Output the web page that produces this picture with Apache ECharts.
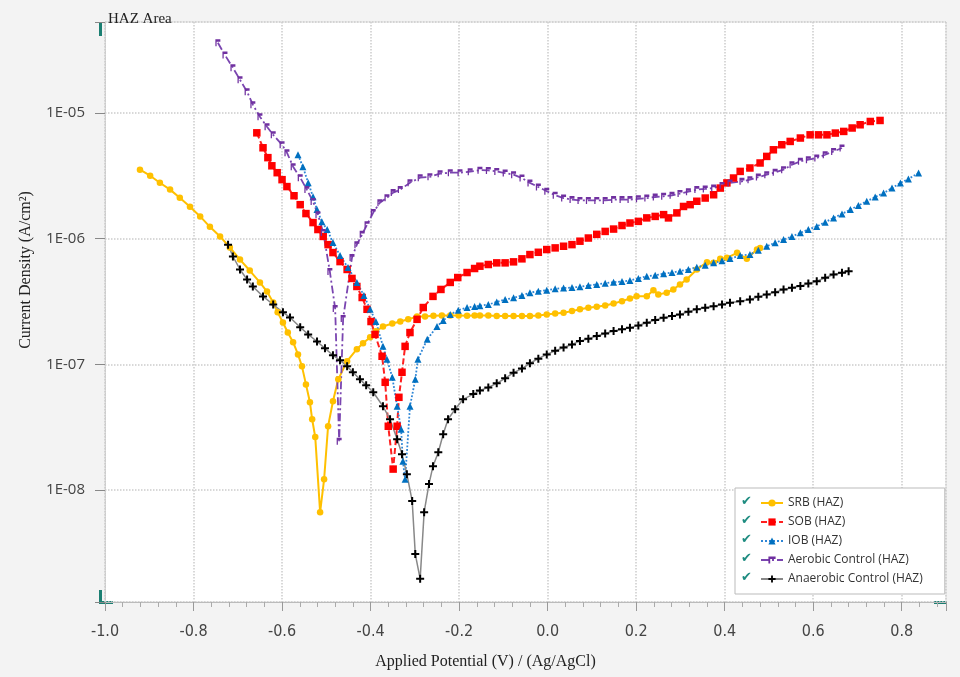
<!DOCTYPE html>
<html>
<head>
<meta charset="utf-8">
<script src="https://cdn.jsdelivr.net/npm/echarts@6/dist/echarts.min.js"></script>
<style>
html, body { margin: 0; padding: 0; background: #f3f3f3; }
#chart { width: 960px; height: 677px; }
</style>
</head>
<body>
<div id="chart"></div>
<script>
// potential (V vs Ag/AgCl) and current density (A/cm2)
var srbE = [-0.921,-0.898,-0.876,-0.853,-0.831,-0.808,-0.785,-0.763,-0.740,-0.718,-0.695,-0.673,-0.650,-0.634,-0.620,-0.610,-0.598,-0.587,-0.575,-0.564,-0.555,-0.546,-0.537,-0.532,-0.525,-0.514,-0.505,-0.496,-0.485,-0.473,-0.453,-0.431,-0.417,-0.401,-0.388,-0.372,-0.351,-0.333,-0.315,-0.295,-0.277,-0.258,-0.239,-0.220,-0.201,-0.182,-0.165,-0.153,-0.134,-0.115,-0.096,-0.077,-0.058,-0.040,-0.021,-0.002,0.017,0.036,0.055,0.073,0.092,0.111,0.130,0.149,0.168,0.186,0.201,0.224,0.239,0.250,0.269,0.284,0.299,0.314,0.337,0.360,0.375,0.390,0.405,0.428,0.450,0.473,0.480];
var srbI = [3.53e-6,3.16e-6,2.78e-6,2.45e-6,2.11e-6,1.79e-6,1.50e-6,1.24e-6,1.04e-6,8.49e-7,6.81e-7,5.57e-7,4.48e-7,3.79e-7,3.10e-7,2.59e-7,2.15e-7,1.79e-7,1.50e-7,1.20e-7,9.64e-8,6.93e-8,4.99e-8,3.66e-8,2.64e-8,6.68e-9,1.22e-8,3.22e-8,5.08e-8,7.60e-8,1.06e-7,1.32e-7,1.47e-7,1.64e-7,1.83e-7,2.00e-7,2.11e-7,2.19e-7,2.28e-7,2.40e-7,2.40e-7,2.43e-7,2.45e-7,2.45e-7,2.45e-7,2.43e-7,2.45e-7,2.45e-7,2.45e-7,2.42e-7,2.42e-7,2.42e-7,2.42e-7,2.42e-7,2.45e-7,2.49e-7,2.54e-7,2.57e-7,2.65e-7,2.74e-7,2.82e-7,2.87e-7,2.94e-7,3.05e-7,3.18e-7,3.34e-7,3.48e-7,3.48e-7,3.89e-7,3.60e-7,3.71e-7,3.94e-7,4.32e-7,4.73e-7,5.68e-7,6.49e-7,6.41e-7,6.90e-7,7.03e-7,7.71e-7,6.90e-7,8.18e-7,8.43e-7];

var sobE = [-0.657,-0.643,-0.632,-0.623,-0.611,-0.600,-0.589,-0.573,-0.559,-0.546,-0.530,-0.519,-0.507,-0.496,-0.485,-0.469,-0.453,-0.442,-0.431,-0.419,-0.408,-0.399,-0.390,-0.374,-0.367,-0.360,-0.349,-0.340,-0.336,-0.329,-0.322,-0.311,-0.295,-0.281,-0.259,-0.241,-0.220,-0.203,-0.182,-0.165,-0.153,-0.134,-0.115,-0.096,-0.077,-0.058,-0.040,-0.021,-0.002,0.017,0.036,0.055,0.073,0.092,0.111,0.130,0.149,0.168,0.186,0.205,0.224,0.243,0.262,0.273,0.292,0.307,0.322,0.337,0.356,0.375,0.390,0.405,0.420,0.435,0.457,0.480,0.495,0.510,0.529,0.548,0.571,0.593,0.612,0.631,0.650,0.669,0.688,0.706,0.729,0.751];
var sobI = [6.93e-6,5.27e-6,4.40e-6,3.79e-6,3.34e-6,2.94e-6,2.59e-6,2.19e-6,1.86e-6,1.58e-6,1.34e-6,1.18e-6,1.04e-6,8.95e-7,7.74e-7,6.56e-7,5.68e-7,4.82e-7,4.16e-7,3.40e-7,2.74e-7,2.19e-7,1.73e-7,1.16e-7,7.20e-8,3.22e-8,1.47e-8,3.22e-8,5.47e-8,8.65e-8,1.39e-7,1.79e-7,2.28e-7,2.83e-7,3.47e-7,3.94e-7,4.48e-7,4.90e-7,5.37e-7,5.78e-7,6.03e-7,6.22e-7,6.41e-7,6.41e-7,6.53e-7,6.90e-7,7.46e-7,7.78e-7,8.18e-7,8.43e-7,8.69e-7,8.95e-7,9.53e-7,1.01e-6,1.08e-6,1.14e-6,1.19e-6,1.27e-6,1.33e-6,1.37e-6,1.46e-6,1.50e-6,1.55e-6,1.46e-6,1.60e-6,1.80e-6,1.86e-6,1.98e-6,2.10e-6,2.23e-6,2.52e-6,2.77e-6,3.03e-6,3.42e-6,3.64e-6,3.99e-6,4.50e-6,5.08e-6,5.57e-6,5.92e-6,6.30e-6,6.68e-6,6.68e-6,6.68e-6,6.90e-6,7.11e-6,7.57e-6,8.03e-6,8.53e-6,8.69e-6];

var iobE = [-0.564,-0.553,-0.541,-0.530,-0.521,-0.510,-0.498,-0.485,-0.469,-0.451,-0.431,-0.415,-0.401,-0.388,-0.372,-0.363,-0.351,-0.340,-0.331,-0.327,-0.322,-0.311,-0.299,-0.293,-0.272,-0.250,-0.236,-0.220,-0.202,-0.182,-0.165,-0.153,-0.134,-0.115,-0.096,-0.077,-0.058,-0.040,-0.021,-0.002,0.017,0.036,0.055,0.073,0.092,0.111,0.130,0.149,0.168,0.186,0.205,0.224,0.243,0.262,0.281,0.299,0.318,0.337,0.356,0.375,0.394,0.412,0.435,0.457,0.476,0.495,0.514,0.533,0.552,0.571,0.589,0.608,0.627,0.646,0.665,0.684,0.702,0.721,0.740,0.759,0.778,0.797,0.815,0.838];
var iobI = [4.64e-6,3.73e-6,2.78e-6,2.15e-6,1.70e-6,1.36e-6,1.18e-6,9.29e-7,7.33e-7,5.89e-7,4.48e-7,3.53e-7,2.74e-7,2.19e-7,1.39e-7,1.10e-7,7.89e-8,4.64e-8,3.05e-8,1.70e-8,1.22e-8,4.64e-8,7.60e-8,1.10e-7,1.58e-7,2.00e-7,2.23e-7,2.49e-7,2.69e-7,2.83e-7,2.88e-7,2.92e-7,2.99e-7,3.13e-7,3.28e-7,3.38e-7,3.53e-7,3.71e-7,3.82e-7,3.89e-7,3.99e-7,4.04e-7,4.08e-7,4.14e-7,4.24e-7,4.32e-7,4.42e-7,4.50e-7,4.56e-7,4.64e-7,4.82e-7,5.02e-7,5.12e-7,5.25e-7,5.37e-7,5.51e-7,5.68e-7,5.92e-7,6.14e-7,6.41e-7,6.65e-7,6.93e-7,7.33e-7,7.46e-7,8.07e-7,8.69e-7,9.25e-7,9.82e-7,1.04e-6,1.11e-6,1.18e-6,1.25e-6,1.35e-6,1.46e-6,1.57e-6,1.70e-6,1.83e-6,1.98e-6,2.14e-6,2.30e-6,2.52e-6,2.77e-6,2.98e-6,3.32e-6];

var aerE = [-0.745,-0.729,-0.711,-0.695,-0.679,-0.666,-0.650,-0.634,-0.620,-0.600,-0.589,-0.575,-0.559,-0.544,-0.530,-0.519,-0.507,-0.492,-0.480,-0.471,-0.462,-0.442,-0.431,-0.419,-0.408,-0.394,-0.379,-0.363,-0.349,-0.333,-0.311,-0.288,-0.266,-0.243,-0.220,-0.198,-0.175,-0.153,-0.134,-0.115,-0.096,-0.077,-0.058,-0.040,-0.021,-0.002,0.017,0.036,0.055,0.073,0.092,0.111,0.130,0.149,0.168,0.186,0.205,0.224,0.243,0.262,0.281,0.299,0.318,0.337,0.356,0.375,0.394,0.412,0.439,0.457,0.476,0.495,0.514,0.533,0.552,0.571,0.589,0.608,0.627,0.646,0.665];
var aerI = [3.60e-5,2.88e-5,2.28e-5,1.83e-5,1.47e-5,1.16e-5,9.29e-6,7.74e-6,6.68e-6,5.57e-6,4.82e-6,3.73e-6,3.05e-6,2.45e-6,1.97e-6,1.55e-6,1.12e-6,5.47e-7,2.78e-7,2.45e-8,2.32e-7,7.06e-7,8.95e-7,1.08e-6,1.29e-6,1.61e-6,1.93e-6,2.11e-6,2.32e-6,2.45e-6,2.78e-6,3.05e-6,3.10e-6,3.28e-6,3.34e-6,3.34e-6,3.40e-6,3.50e-6,3.48e-6,3.42e-6,3.32e-6,3.22e-6,3.03e-6,2.77e-6,2.57e-6,2.38e-6,2.21e-6,2.10e-6,2.04e-6,2.01e-6,2.01e-6,2.01e-6,2.01e-6,2.04e-6,2.04e-6,2.04e-6,2.07e-6,2.10e-6,2.14e-6,2.17e-6,2.21e-6,2.28e-6,2.36e-6,2.45e-6,2.48e-6,2.52e-6,2.64e-6,2.77e-6,2.85e-6,2.94e-6,3.08e-6,3.22e-6,3.36e-6,3.53e-6,3.86e-6,4.11e-6,4.24e-6,4.37e-6,4.64e-6,4.93e-6,5.25e-6];

var anaE = [-0.722,-0.711,-0.695,-0.679,-0.666,-0.643,-0.620,-0.598,-0.582,-0.559,-0.541,-0.521,-0.503,-0.485,-0.469,-0.453,-0.440,-0.424,-0.410,-0.394,-0.372,-0.356,-0.340,-0.329,-0.318,-0.306,-0.299,-0.288,-0.279,-0.268,-0.259,-0.247,-0.236,-0.225,-0.209,-0.191,-0.168,-0.153,-0.134,-0.115,-0.096,-0.077,-0.058,-0.040,-0.021,-0.002,0.017,0.036,0.055,0.073,0.092,0.111,0.130,0.149,0.168,0.186,0.205,0.224,0.243,0.262,0.281,0.299,0.318,0.337,0.356,0.375,0.394,0.412,0.435,0.457,0.476,0.495,0.514,0.533,0.552,0.571,0.589,0.608,0.627,0.646,0.665,0.680];
var anaI = [8.95e-7,7.20e-7,5.68e-7,4.73e-7,4.16e-7,3.47e-7,2.99e-7,2.59e-7,2.36e-7,1.97e-7,1.73e-7,1.52e-7,1.34e-7,1.18e-7,1.08e-7,9.64e-8,8.65e-8,7.60e-8,6.81e-8,6.00e-8,4.64e-8,3.66e-8,2.54e-8,1.93e-8,1.34e-8,8.18e-9,3.10e-9,1.97e-9,6.68e-9,1.12e-8,1.55e-8,2.00e-8,2.78e-8,3.66e-8,4.40e-8,5.27e-8,5.80e-8,6.20e-8,6.56e-8,7.06e-8,7.74e-8,8.59e-8,9.25e-8,1.02e-7,1.11e-7,1.20e-7,1.28e-7,1.36e-7,1.44e-7,1.53e-7,1.60e-7,1.68e-7,1.76e-7,1.84e-7,1.90e-7,1.95e-7,2.04e-7,2.14e-7,2.25e-7,2.35e-7,2.42e-7,2.49e-7,2.62e-7,2.74e-7,2.82e-7,2.90e-7,2.99e-7,3.09e-7,3.18e-7,3.28e-7,3.44e-7,3.60e-7,3.75e-7,3.94e-7,4.06e-7,4.19e-7,4.40e-7,4.58e-7,4.88e-7,5.18e-7,5.35e-7,5.51e-7];

var names = ['SRB (HAZ)', 'SOB (HAZ)', 'IOB (HAZ)', 'Aerobic Control (HAZ)', 'Anaerobic Control (HAZ)'];

function pairs(e, i) {
    return e.map(function (v, k) { return [v, i[k]]; });
}

var flag = 'path://M0,0 L8,0 L8,4 L2,4 L2,11 L0,11 Z';
var plus = 'path://M3,0 L5,0 L5,3 L8,3 L8,5 L5,5 L5,8 L3,8 L3,5 L0,5 L0,3 L3,3 Z';

var myChart = echarts.init(document.getElementById('chart'));

// teal check marks in front of the legend rows
var checks = [];
var rowY = [503, 522, 541, 560, 579];
for (var k = 0; k < rowY.length; k++) {
    checks.push({
        type: 'text', x: 741, y: rowY[k] - 8, z: 100,
        style: { text: '\u2714', fill: '#1e8c80', font: '13px "DejaVu Sans"' }
    });
}

var option = {
    animation: false,
    backgroundColor: '#f3f3f3',
    title: {
        text: 'HAZ Area', left: 108, top: 12, padding: 0,
        textStyle: { fontFamily: 'Liberation Serif', fontSize: 15, fontWeight: 'normal', color: '#222' }
    },
    grid: {
        left: 105, top: 22, width: 841, height: 580,
        show: true, backgroundColor: '#fff', borderColor: '#ddd', borderWidth: 1
    },
    legend: {
        data: names, orient: 'vertical', left: 735, top: 488,
        padding: [8, 22, 8, 25], itemGap: 5, itemWidth: 22, itemHeight: 9,
        backgroundColor: '#fff', borderColor: '#bbb', borderWidth: 1,
        textStyle: { fontFamily: 'Open Sans', fontSize: 12, color: '#333', lineHeight: 14 }
    },
    graphic: checks.concat([
        { type: 'rect', shape: { x: 99, y: 22, width: 3, height: 14 }, style: { fill: '#1b7f72' } },
        { type: 'rect', shape: { x: 99, y: 590, width: 3, height: 13 }, style: { fill: '#1b7f72' } },
        { type: 'rect', shape: { x: 99, y: 601, width: 14, height: 3 }, style: { fill: '#1b7f72' } },
        { type: 'rect', shape: { x: 934, y: 601, width: 13, height: 3 }, style: { fill: '#1b7f72' } }
    ]),
    xAxis: {
        type: 'value', min: -1, max: 0.9, interval: 0.2,
        axisLine: { show: true, onZero: false, lineStyle: { color: '#bbb' } },
        axisTick: { show: true, length: 9, lineStyle: { color: '#999' } },
        minorTick: { show: true, splitNumber: 5, length: 5, lineStyle: { color: '#aaa' } },
        axisLabel: {
            margin: 22, fontSize: 16, color: '#444',
            fontFamily: '"DejaVu Sans Condensed", "Liberation Sans Narrow", "Roboto Condensed", sans-serif',
            formatter: function (v) {
                if (Math.abs(v * 5 - Math.round(v * 5)) > 1e-6) { return ''; }
                if (Math.abs(v) < 1e-9) { return '0.0'; }
                return v.toFixed(1);
            }
        },
        splitLine: { show: true, lineStyle: { color: '#ccc', type: 'dotted', width: 1.5 } },
        name: 'Applied Potential (V) / (Ag/AgCl)', nameLocation: 'middle', nameGap: 52,
        nameTextStyle: { fontFamily: 'Liberation Serif', fontSize: 16, color: '#222', padding: [0, 80, 0, 0] }
    },
    yAxis: {
        type: 'log', logBase: 10, min: 1.29e-9, max: 5.27e-5,
        axisLine: { show: true, onZero: false, lineStyle: { color: '#ccc', type: 'dotted' } },
        axisTick: { show: true, length: 10, lineStyle: { color: '#888' } },
        axisLabel: {
            margin: 20, fontSize: 15, color: '#444', fontFamily: 'Open Sans',
            formatter: function (v) {
                var p = Math.log(v) / Math.LN10;
                if (Math.abs(p - Math.round(p)) > 1e-6) { return ''; }
                var n = -Math.round(p);
                return '1E-' + (n < 10 ? '0' + n : n);
            }
        },
        splitLine: { show: true, lineStyle: { color: '#ccc', type: 'dotted', width: 1.5 } },
        name: 'Current Density (A/cm\u00B2)', nameLocation: 'middle', nameGap: 71, nameRotate: 90,
        nameTextStyle: { fontFamily: 'Liberation Serif', fontSize: 16, color: '#222', padding: [0, 0, 0, 84] }
    },
    series: [
        {
            name: names[0], type: 'line', data: pairs(srbE, srbI),
            symbol: 'circle', symbolSize: 6.5,
            itemStyle: { color: '#FFC000' },
            lineStyle: { color: '#FFC000', width: 2 }
        },
        {
            name: names[1], type: 'line', data: pairs(sobE, sobI),
            symbol: 'rect', symbolSize: 7.5,
            itemStyle: { color: '#FF0000' },
            lineStyle: { color: '#FF2020', width: 2, type: [6, 3] }
        },
        {
            name: names[2], type: 'line', data: pairs(iobE, iobI),
            symbol: 'triangle', symbolSize: 7,
            itemStyle: { color: '#0070C0' },
            lineStyle: { color: '#2E86D6', width: 1.8, type: 'dotted' }
        },
        {
            name: names[3], type: 'line', data: pairs(aerE, aerI),
            symbol: flag, symbolSize: [5, 7],
            itemStyle: { color: '#7030A0' },
            lineStyle: { color: '#7A45B0', width: 1.8, type: [8, 3, 2, 3] }
        },
        {
            name: names[4], type: 'line', data: pairs(anaE, anaI),
            symbol: plus, symbolSize: 8,
            itemStyle: { color: '#000' },
            lineStyle: { color: '#888', width: 1.5 }
        }
    ]
};

myChart.setOption(option);
</script>
</body>
</html>
